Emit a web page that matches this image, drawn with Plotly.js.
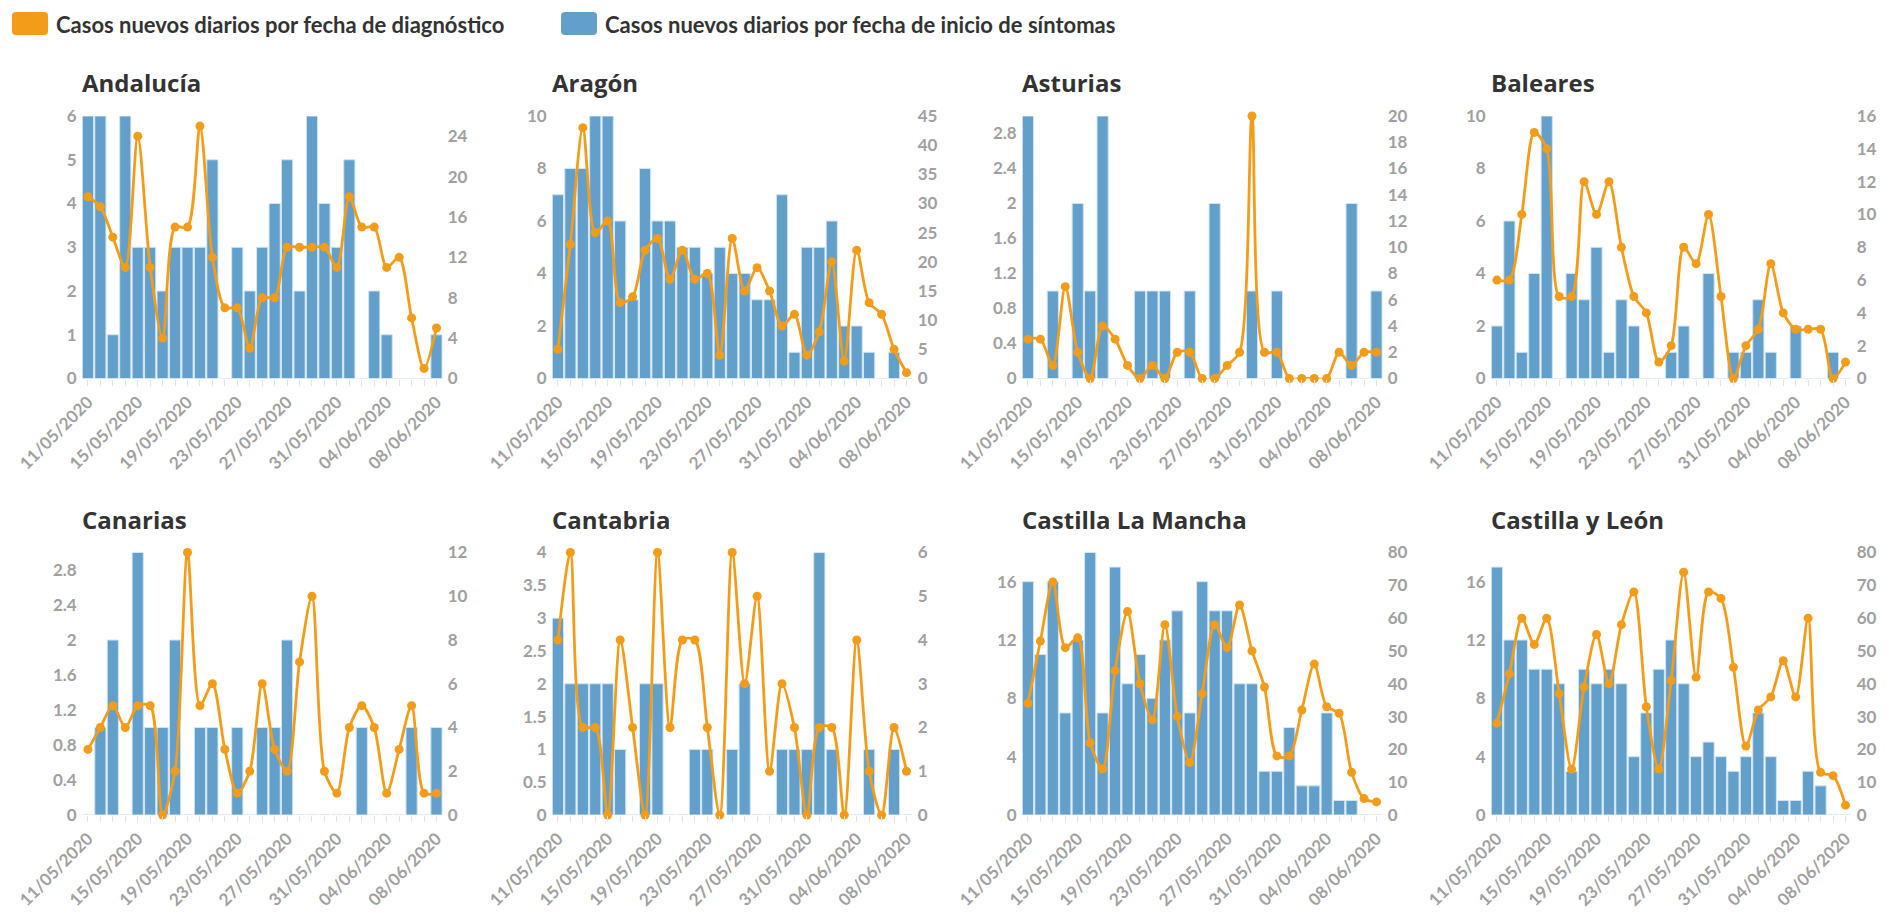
<!DOCTYPE html>
<html><head><meta charset="utf-8">
<script src="https://cdn.plot.ly/plotly-3.0.1.min.js"></script>
<style>html,body{margin:0;padding:0;background:#fff}#chart{width:1892px;height:913px}</style>
</head><body><div id="chart"></div>
<script>
const fechas = ['2020-05-11','2020-05-12','2020-05-13','2020-05-14','2020-05-15','2020-05-16','2020-05-17','2020-05-18','2020-05-19','2020-05-20','2020-05-21','2020-05-22','2020-05-23','2020-05-24','2020-05-25','2020-05-26','2020-05-27','2020-05-28','2020-05-29','2020-05-30','2020-05-31','2020-06-01','2020-06-02','2020-06-03','2020-06-04','2020-06-05','2020-06-06','2020-06-07','2020-06-08'];
const regiones = ['Andalucía','Aragón','Asturias','Baleares','Canarias','Cantabria','Castilla La Mancha','Castilla y León'];
const serieSintomas = 'Casos nuevos diarios por fecha de inicio de síntomas';
const serieDiagnostico = 'Casos nuevos diarios por fecha de diagnóstico';

const sintomasAndalucia = [6,6,1,6,3,3,2,3,3,3,5,0,3,2,3,4,5,2,6,4,3,5,0,2,1,0,0,0,1];
const diagnosticoAndalucia = [18,17,14,11,24,11,4,15,15,25,12,7,7,3,8,8,13,13,13,13,11,18,15,15,11,12,6,1,5];
const sintomasAragon = [7,8,8,10,10,6,3,8,6,6,5,5,4,5,4,4,3,3,7,1,5,5,6,2,2,1,0,1,0];
const diagnosticoAragon = [5,23,43,25,27,13,14,22,24,17,22,17,18,4,24,15,19,15,9,11,4,8,20,3,22,13,11,5,1];
const sintomasAsturias = [3,0,1,0,2,1,3,0,0,1,1,1,0,1,0,2,0,0,1,0,1,0,0,0,0,0,2,0,1];
const diagnosticoAsturias = [3,3,1,7,2,0,4,3,1,0,1,0,2,2,0,0,1,2,20,2,2,0,0,0,0,2,1,2,2];
const sintomasBaleares = [2,6,1,4,10,0,4,3,5,1,3,2,0,0,1,2,0,4,0,1,1,3,1,0,2,0,0,1,0];
const diagnosticoBaleares = [6,6,10,15,14,5,5,12,10,12,8,5,4,1,2,8,7,10,5,0,2,3,7,4,3,3,3,0,1];
const sintomasCanarias = [0,1,2,0,3,1,1,2,0,1,1,0,1,0,1,1,2,0,0,0,0,0,1,0,0,0,1,0,1];
const diagnosticoCanarias = [3,4,5,4,5,5,0,2,12,5,6,3,1,2,6,3,2,7,10,2,1,4,5,4,1,3,5,1,1];
const sintomasCantabria = [3,2,2,2,2,1,0,2,2,0,0,1,1,0,1,2,0,0,1,1,1,4,1,0,0,1,0,1,0];
const diagnosticoCantabria = [4,6,2,2,0,4,2,0,6,2,4,4,2,0,6,3,5,1,3,2,0,2,2,0,4,1,0,2,1];
const sintomasCLM = [16,11,16,7,12,18,7,17,9,11,8,12,14,7,16,14,14,9,9,3,3,6,2,2,7,1,1,0,0];
const diagnosticoCLM = [34,53,71,51,54,22,14,44,62,40,29,58,30,16,37,58,51,64,50,39,18,18,32,46,33,31,13,5,4];
const sintomasCyL = [17,12,12,10,10,9,3,10,9,10,9,4,7,10,12,9,4,5,4,3,4,7,4,1,1,3,2,0,0];
const diagnosticoCyL = [28,43,60,52,60,37,14,39,55,40,58,68,33,14,41,74,42,68,66,45,21,32,36,47,36,60,13,12,3];

const sintomas = [sintomasAndalucia,sintomasAragon,sintomasAsturias,sintomasBaleares,sintomasCanarias,sintomasCantabria,sintomasCLM,sintomasCyL];
const diagnostico = [diagnosticoAndalucia,diagnosticoAragon,diagnosticoAsturias,diagnosticoBaleares,diagnosticoCanarias,diagnosticoCantabria,diagnosticoCLM,diagnosticoCyL];

// axis configuration (scales)
const ejeIzq = [{max:6,dt:1},{max:10,dt:2},{max:3,dt:0.4},{max:10,dt:2},{max:3,dt:0.4},{max:4,dt:0.5},{max:18,dt:4},{max:18,dt:4}];
const ejeDer = [{max:26,dt:4},{max:45,dt:5},{max:20,dt:2},{max:16,dt:2},{max:12,dt:2},{max:6,dt:1},{max:80,dt:10},{max:80,dt:10}];

const W = 1892, H = 913;
const colLeft = [81.7, 551.7, 1021.7, 1490.7];
const plotW = 361;
const rowTop = [116, 552.5];
const plotH = 262.5;
const AZUL = '#62a0cb', NARANJA = '#f39c1a';
const tickFont = {family:'Lato, sans-serif', size:17, color:'#a0a0a0', weight:'bold'};

const data = [];
const layout = {
  width: W, height: H, margin:{l:0,r:0,t:0,b:0},
  paper_bgcolor:'#fff', plot_bgcolor:'rgba(0,0,0,0)',
  showlegend:false, bargap:0.1, hovermode:false,
  annotations:[], shapes:[]
};
const px = x => x / W, py = y => 1 - y / H;

regiones.forEach((reg, i) => {
  const r = Math.floor(i / 4), c = i % 4;
  const xn = i + 1, yl = 2 * i + 1, yr = 2 * i + 2;
  const xid = xn === 1 ? 'x' : 'x' + xn;
  const ylid = yl === 1 ? 'y' : 'y' + yl;
  const yrid = 'y' + yr;
  const xk = xn === 1 ? 'xaxis' : 'xaxis' + xn;
  const ylk = yl === 1 ? 'yaxis' : 'yaxis' + yl;
  const yrk = 'yaxis' + yr;
  const x0 = colLeft[c], y0 = rowTop[r];
  data.push({type:'bar', x:fechas, y:sintomas[i], xaxis:xid, yaxis:ylid, name:serieSintomas,
    marker:{color:AZUL, line:{color:'#d3e5f2', width:1}}});
  data.push({type:'scatter', mode:'lines+markers', x:fechas, y:diagnostico[i], xaxis:xid, yaxis:yrid, name:serieDiagnostico,
    line:{color:NARANJA, width:2.8, shape:'spline', smoothing:0.8}, marker:{color:NARANJA, size:9}, cliponaxis:false});
  layout[xk] = {type:'date', domain:[px(x0), px(x0 + plotW)], anchor:ylid,
    range:['2020-05-10 12:00','2020-06-08 12:00'], tick0:'2020-05-11', dtick:4*86400000,
    tickformat:'%d/%m/%Y', tickangle:-45, tickfont:tickFont, ticks:'outside', ticklen:6, tickcolor:'#e3e3e3',
    minor:{dtick:86400000, ticks:'outside', ticklen:6, tickcolor:'#e3e3e3', showgrid:false},
    showgrid:false, zeroline:false, showline:false, fixedrange:true};
  layout[ylk] = {domain:[py(y0 + plotH), py(y0)], anchor:xid, range:[0, ejeIzq[i].max], dtick:ejeIzq[i].dt, tick0:0,
    showgrid:false, zeroline:false, showline:false, ticks:'', tickfont:tickFont, ticklabelstandoff:4, fixedrange:true};
  layout[yrk] = {overlaying:ylid, side:'right', anchor:xid, range:[0, ejeDer[i].max], dtick:ejeDer[i].dt, tick0:0,
    showgrid:false, zeroline:false, showline:false, ticks:'', tickfont:tickFont, ticklabelstandoff:4, fixedrange:true};
  layout.annotations.push({xref:'paper', yref:'paper', x:px(x0 - 2), y:py(y0 - 33.5), xanchor:'left', yanchor:'middle',
    text:reg, showarrow:false, font:{family:'Open Sans, sans-serif', size:24, color:'#333333', weight:'bold'}});
});

function roundRect(x0, y0, x1, y1, rr) {
  const X = v => px(v).toFixed(6), Y = v => py(v).toFixed(6);
  return `M${X(x0+rr)},${Y(y0)} L${X(x1-rr)},${Y(y0)} Q${X(x1)},${Y(y0)} ${X(x1)},${Y(y0+rr)} L${X(x1)},${Y(y1-rr)} Q${X(x1)},${Y(y1)} ${X(x1-rr)},${Y(y1)} L${X(x0+rr)},${Y(y1)} Q${X(x0)},${Y(y1)} ${X(x0)},${Y(y1-rr)} L${X(x0)},${Y(y0+rr)} Q${X(x0)},${Y(y0)} ${X(x0+rr)},${Y(y0)} Z`;
}
const leyenda = [{nombre:serieDiagnostico, color:NARANJA, x:12}, {nombre:serieSintomas, color:AZUL, x:561}];
leyenda.forEach(l => {
  layout.shapes.push({type:'path', xref:'paper', yref:'paper', path:roundRect(l.x, 12, l.x + 36, 35, 4), fillcolor:l.color, line:{width:0}});
  layout.annotations.push({xref:'paper', yref:'paper', x:px(l.x + 42), y:py(24), xanchor:'left', yanchor:'middle',
    text:l.nombre, showarrow:false, font:{family:'Lato, sans-serif', size:22, color:'#333333', weight:'bold'}});
});

Plotly.newPlot('chart', data, layout, {displayModeBar:false, staticPlot:true});
</script></body></html>
